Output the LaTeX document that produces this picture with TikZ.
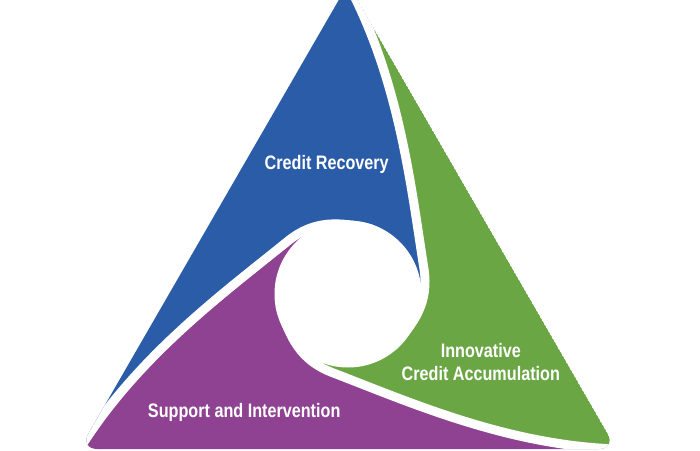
\documentclass[tikz,border=0pt]{standalone}
\usepackage{fontspec}
\setmainfont{Liberation Sans}[FakeStretch=0.83]
\definecolor{cblue}{RGB}{43,92,168}
\definecolor{cgreen}{RGB}{107,166,69}
\definecolor{cpurple}{RGB}{142,66,145}
\begin{document}
\begin{tikzpicture}[x=1pt,y=1pt,
  txt/.style={text=white,font=\bfseries\fontsize{19.5}{22.7}\selectfont,inner sep=0pt,anchor=base},
  gap/.style={white,line width=9pt}]
\useasboundingbox (-348,-156) rectangle (352,294);
\fill[white] (-348,-156) rectangle (352,294);
\foreach \n/\r in {a/0,b/120,c/240}{
  \begin{scope}[rotate=\r]
    \coordinate (\n0) at (0,310);
    \coordinate (\n1) at (51.6,213);
    \coordinate (\n2) at (63,107);
    \coordinate (\n3) at (76,25);
    \coordinate (\n4) at (81,-8);
    \coordinate (\n5) at (67,-29);
    \coordinate (\n6) at (44.4,-52.9);
  \end{scope}}
\coordinate (o) at (0,0);
\begin{scope}
  \clip[rounded corners=18pt] (a0) -- (b0) -- (c0) -- cycle;
  \fill[cblue] (a0) -- (b0) .. controls (b1) and (b2) .. (b3) .. controls (b4) and (b5) .. (b6) -- (o) -- (a6) .. controls (a5) and (a4) .. (a3) .. controls (a2) and (a1) .. (a0) -- cycle;
  \fill[cgreen] (c0) -- (a0) .. controls (a1) and (a2) .. (a3) .. controls (a4) and (a5) .. (a6) -- (o) -- (c6) .. controls (c5) and (c4) .. (c3) .. controls (c2) and (c1) .. (c0) -- cycle;
  \fill[cpurple] (b0) -- (c0) .. controls (c1) and (c2) .. (c3) .. controls (c4) and (c5) .. (c6) -- (o) -- (b6) .. controls (b5) and (b4) .. (b3) .. controls (b2) and (b1) .. (b0) -- cycle;
  \foreach \n in {a,b,c}
    \draw[gap] (\n0) .. controls (\n1) and (\n2) .. (\n3) .. controls (\n4) and (\n5) .. (\n6);
  \fill[white] (o) circle (73.5);
\end{scope}
\node[txt] (t1) at (-21.3,125) {Credit Recovery};
\node[txt] (t2) at (132.8,-63.3) {Innovative};
\node[txt] (t3) at (132.8,-86) {Credit Accumulation};
\node[txt] (t4) at (-103.8,-123.3) {Support and Intervention};
\end{tikzpicture}
\end{document}
